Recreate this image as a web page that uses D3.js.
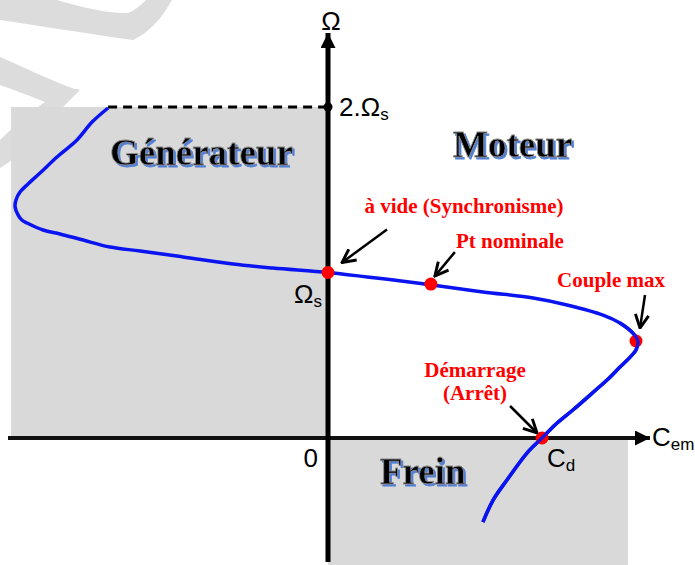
<!DOCTYPE html>
<html>
<head>
<meta charset="utf-8">
<script src="https://cdn.jsdelivr.net/npm/d3@7"></script>
<style>
  body { margin: 0; background: #fff; }
  svg { display: block; }
</style>
</head>
<body>
<div id="chart"></div>
<script>
// couple-vitesse caracteristic of the asynchronous machine
// x = Cem (Cmax = 1), y = Omega (Omega_s = 1)
const curveC = [-0.714, -0.766, -0.815, -0.880, -0.935, -0.974, -1.000, -1.013, -1.016, -1.006,
                -0.994, -0.977, -0.925, -0.870, -0.795, -0.708, -0.610, -0.471, -0.308, -0.179,
                 0.000,  0.127,  0.289,  0.338,  0.503,  0.666,  0.776,  0.893,  0.948,  0.990,
                 1.006,  1.000,  0.981,  0.948,  0.906,  0.873,  0.795,  0.737,  0.695,  0.646,
                 0.581,  0.536,  0.503];
const curveW = [ 1.994,  1.909,  1.801,  1.698,  1.601,  1.535,  1.486,  1.438,  1.396,  1.347,
                 1.317,  1.299,  1.257,  1.233,  1.196,  1.154,  1.130,  1.094,  1.051,  1.027,
                 1.000,  0.973,  0.937,  0.924,  0.882,  0.846,  0.804,  0.743,  0.695,  0.634,
                 0.586,  0.532,  0.489,  0.429,  0.350,  0.296,  0.169,  0.079,  0.000, -0.091,
                -0.254, -0.375, -0.508];

// remarkable points
const pointNames = ["vide", "nominal", "cmax", "demarrage"];
const pointC = [0, 0.334, 1.0, 0.695];
const pointW = [1.0, 0.93, 0.586, 0];

const label2Ws = 2;    // 2.Omega_s
const regionGen = {c0: -1.029, c1: 0, w0: 0, w1: 2};      // generateur
const regionFrein = {c0: 0, c1: 0.974, w0: -0.8, w1: 0};  // frein

const width = 695, height = 565;

const svg = d3.select("#chart").append("svg")
    .attr("width", width).attr("height", height)
    .attr("viewBox", [0, 0, width, height]);

const x = d3.scaleLinear().domain([0, 1]).range([328, 636]);
const y = d3.scaleLinear().domain([0, 2]).range([438, 107]);

// faint watermark strokes
svg.append("path")
    .attr("fill", "#dcdcdc")
    .attr("d", "M0,0 L57,0 C85,8 110,14 128,13 C136,10 142,4 146,0 L172,0 C162,18 150,32 133,40 C90,34 40,26 0,20 Z");
svg.append("path")
    .attr("fill", "#dcdcdc")
    .attr("d", "M0,57 C30,70 55,82 72,88 C75,90 77,88 80,90 C60,110 40,130 12,160 L0,168 L0,140 C15,125 30,112 45,102 C30,96 15,90 0,85 Z");

// quadrant backgrounds
for (let r of [regionGen, regionFrein]) {
    svg.append("rect")
        .attr("x", x(r.c0)).attr("y", y(r.w1))
        .attr("width", x(r.c1) - x(r.c0))
        .attr("height", y(r.w0) - y(r.w1))
        .attr("fill", "#d9d9d9");
}

// dashed line at 2.Omega_s
svg.append("line")
    .attr("x1", x(curveC[0])).attr("x2", x(0))
    .attr("y1", y(label2Ws)).attr("y2", y(label2Ws))
    .attr("stroke", "#000").attr("stroke-width", 3)
    .attr("stroke-dasharray", "9,6");

// axes
const defs = svg.append("defs");
defs.append("marker")
    .attr("id", "axisHead").attr("viewBox", "0 0 10 10")
    .attr("refX", 10).attr("refY", 5)
    .attr("markerWidth", 18).attr("markerHeight", 15)
    .attr("markerUnits", "userSpaceOnUse")
    .attr("orient", "auto")
  .append("path").attr("d", "M0,0 L10,5 L0,10 Z").attr("fill", "#000");

defs.append("marker")
    .attr("id", "openHead").attr("viewBox", "0 0 12 12")
    .attr("refX", 11).attr("refY", 6)
    .attr("markerWidth", 16).attr("markerHeight", 16)
    .attr("markerUnits", "userSpaceOnUse")
    .attr("orient", "auto")
  .append("path").attr("d", "M1,1 L11,6 L1,11")
    .attr("fill", "none").attr("stroke", "#000").attr("stroke-width", 2.2);

// blue drop shadow for the quadrant titles
const shadow = defs.append("filter").attr("id", "blueShadow")
    .attr("x", "-5%").attr("y", "-10%").attr("width", "115%").attr("height", "130%");
shadow.append("feFlood").attr("flood-color", "#4f7fd6").attr("result", "col");
shadow.append("feComposite").attr("in", "col").attr("in2", "SourceAlpha").attr("operator", "in").attr("result", "sh");
shadow.append("feOffset").attr("in", "sh").attr("dx", 2).attr("dy", 2).attr("result", "off");
const merge = shadow.append("feMerge");
merge.append("feMergeNode").attr("in", "off");
merge.append("feMergeNode").attr("in", "SourceGraphic");

svg.append("line")   // Cem axis
    .attr("x1", 8).attr("x2", 650)
    .attr("y1", y(0)).attr("y2", y(0))
    .attr("stroke", "#111").attr("stroke-width", 4)
    .attr("marker-end", "url(#axisHead)");

svg.append("line")   // Omega axis
    .attr("x1", x(0)).attr("x2", x(0))
    .attr("y1", 562).attr("y2", 33)
    .attr("stroke", "#000").attr("stroke-width", 5)
    .attr("marker-end", "url(#axisHead)");

svg.append("circle")
    .attr("cx", x(0)).attr("cy", y(label2Ws)).attr("r", 4.5).attr("fill", "#000");

// the curve
const pts = curveC.map((c, i) => [c, curveW[i]]);
const line = d3.line()
    .x(d => x(d[0])).y(d => y(d[1]))
    .curve(d3.curveCatmullRom);

svg.append("path")
    .datum(pts)
    .attr("d", line)
    .attr("fill", "none")
    .attr("stroke", "#0a14f0")
    .attr("stroke-width", 3.5)
    .attr("stroke-linejoin", "round");

// red points
svg.selectAll(".pt")
    .data(pointNames)
    .join("circle")
    .attr("class", "pt")
    .attr("cx", (d, i) => x(pointC[i]))
    .attr("cy", (d, i) => y(pointW[i]))
    .attr("r", 6.5)
    .attr("fill", "#ff0000");

// the curve runs over the dots at couple max and demarrage
svg.append("path")
    .datum(pts.slice(28))
    .attr("d", line)
    .attr("fill", "none")
    .attr("stroke", "#0a14f0")
    .attr("stroke-width", 3.5)
    .attr("opacity", 0.9);

// annotation arrows, offsets in px from the point
const arrows = [
    {i: 0, from: [59, -43], to: [14, -10]},
    {i: 1, from: [24, -32], to: [4, -8]},
    {i: 2, from: [9, -46], to: [4, -13]},
    {i: 3, from: [-32, -32], to: [-5, -5]}
];
for (let a of arrows) {
    const px = x(pointC[a.i]), py = y(pointW[a.i]);
    svg.append("line")
        .attr("x1", px + a.from[0]).attr("y1", py + a.from[1])
        .attr("x2", px + a.to[0]).attr("y2", py + a.to[1])
        .attr("stroke", "#000").attr("stroke-width", 2.5)
        .attr("marker-end", "url(#openHead)");
}

// red labels
const redFont = "'Liberation Serif', 'Times New Roman', serif";
const redLabels = [
    {t: "à vide (Synchronisme)", x: 464, y: 213},
    {t: "Pt nominale", x: 510, y: 248},
    {t: "Couple max", x: 611, y: 287},
    {t: "Démarrage", x: 475, y: 377},
    {t: "(Arrêt)", x: 475, y: 400}
];
svg.selectAll(".red")
    .data(redLabels)
    .join("text")
    .attr("class", "red")
    .attr("x", d => d.x).attr("y", d => d.y)
    .attr("text-anchor", "middle")
    .attr("font-family", redFont)
    .attr("font-weight", "bold")
    .attr("font-size", 21)
    .attr("fill", "#ff0000")
    .text(d => d.t);

// quadrant titles, black with a blue shadow
const quadLabels = [
    {t: "Générateur", x: 110, y: 165},
    {t: "Moteur", x: 453, y: 157},
    {t: "Frein", x: 380, y: 484}
];
svg.selectAll(".quad")
    .data(quadLabels)
    .join("text")
    .attr("class", "quad")
    .attr("x", d => d.x).attr("y", d => d.y)
    .attr("font-family", redFont).attr("font-weight", "bold").attr("font-size", 37)
    .attr("fill", "#000").attr("stroke", "#8a8a8a").attr("stroke-width", 0.8)
    .attr("filter", "url(#blueShadow)")
    .text(d => d.t);

// axis labels
const sans = "'Liberation Sans', Arial, sans-serif";
function subLabel(px, py, main, sub, anchor) {
    const t = svg.append("text")
        .attr("x", px).attr("y", py)
        .attr("font-family", sans).attr("font-size", 26)
        .attr("fill", "#000")
        .attr("text-anchor", anchor || "start");
    t.append("tspan").text(main);
    if (sub) t.append("tspan").attr("font-size", 17).attr("dy", 4).text(sub);
    return t;
}
subLabel(331, 30, "Ω", null, "middle");
subLabel(339, y(label2Ws) + 9, "2.Ω", "s");
subLabel(322, 303, "Ω", "s", "end");
subLabel(318, 467, "0", null, "end");
subLabel(x(pointC[3]) + 5, 467, "C", "d");
subLabel(652, 446, "C", "em");
</script>
</body>
</html>
